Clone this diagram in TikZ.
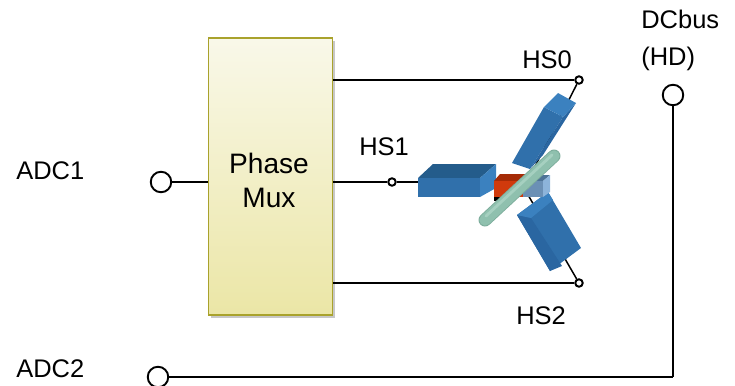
\documentclass[tikz,border=0pt]{standalone}
\usepackage{fontspec}
\setmainfont{Liberation Sans}
\usetikzlibrary{shadows}

\definecolor{muxtop}{HTML}{F9F8E9}
\definecolor{muxbot}{HTML}{EBE6A6}
\definecolor{muxedge}{HTML}{A9A22C}
\definecolor{coilmid}{HTML}{3070AB}
\definecolor{coildark}{HTML}{2A66A1}
\definecolor{coiltop}{HTML}{245C8B}
\definecolor{coillight}{HTML}{3B81BF}
\definecolor{redfront}{HTML}{D03A0C}
\definecolor{redtop}{HTML}{A52B06}
\definecolor{glassfront}{HTML}{6B90B5}
\definecolor{glasstop}{HTML}{4D7397}
\definecolor{glassside}{HTML}{8DB4DA}
\definecolor{rod}{HTML}{8FC0AE}
\definecolor{rodedge}{HTML}{7DAD9C}
\definecolor{rodhi}{HTML}{A6D0C0}

\tikzset{
  lbl/.style={font=\fontsize{14.5}{17}\selectfont, inner sep=0pt, anchor=base west},
  wire/.style={line width=0.85pt, black},
  bigterm/.style={circle, draw, line width=1.1pt, fill=white, minimum size=0.41cm, inner sep=0pt},
  smallterm/.style={circle, draw, line width=1.1pt, fill=white, minimum size=0.15cm, inner sep=0pt},
  muxbox/.style={draw=muxedge, line width=1.1pt, top color=muxtop, bottom color=muxbot,
    minimum width=2.48cm, minimum height=5.54cm, inner sep=0pt,
    drop shadow={shadow xshift=1.2pt, shadow yshift=-1.8pt, fill=black, opacity=0.22}},
  muxtext/.style={font=\fontsize{16}{19.8}\selectfont, align=center, inner sep=0pt},
}

\begin{document}
\begin{tikzpicture}[x=0.02cm, y=-0.02cm]
  \useasboundingbox (0,0) rectangle (735,386);

  % multiplexer block
  \node[muxbox] (mux) at (270.5,176.5) {};
  \node[muxtext] (muxlabel) at (269,180.5) {Phase\\Mux};

  % input / output terminals
  \node[bigterm] (adc1) at (161,182) {};
  \node[bigterm] (adc2) at (158,377) {};
  \node[bigterm] (dcbus) at (673,95) {};
  \node[smallterm] (hs0t) at (579,80) {};
  \node[smallterm] (hs1t) at (392,182) {};
  \node[smallterm] (hs2t) at (579,283) {};

  \coordinate (corner) at (673,377);
  \coordinate (hs1in) at (420,182);
  \coordinate (star) at (524,188);

  % labels
  \node[lbl] (adc1lbl) at (16,179) {ADC1};
  \node[lbl] (adc2lbl) at (16,377) {ADC2};
  \node[lbl] (dclbl) at (641,28) {DCbus};
  \node[lbl] (hdlbl) at (641,65) {(HD)};
  \node[lbl] (hs0lbl) at (522,68) {HS0};
  \node[lbl] (hs1lbl) at (359,155) {HS1};
  \node[lbl] (hs2lbl) at (516,324) {HS2};

  % connections
  \draw[wire] (adc1) -- (mux.west |- adc1);
  \draw[wire] (mux.east |- hs0t) -- (hs0t);
  \draw[wire] (mux.east |- hs1t) -- (hs1t);
  \draw[wire] (mux.east |- hs2t) -- (hs2t);
  \draw[wire] (adc2) -- (corner);
  \draw[wire] (dcbus) -- (corner);
  \draw[wire] (hs1t) -- (hs1in);
  \draw[wire] (hs0t) -- (star);
  \draw[wire] (hs2t) -- (star);

  % motor: upper winding
  \fill[coilmid] (544,107) -- (563,117) -- (530,169) -- (512,163) -- cycle;
  \fill[coildark] (563,117) -- (576,103) -- (543,155) -- (530,169) -- cycle;
  \fill[coillight] (544,107) -- (558,93) -- (576,103) -- (563,117) -- cycle;

  % motor: lower winding
  \fill[coilmid] (517,215) -- (548,192) -- (581,248) -- (550,271) -- cycle;
  \fill[coildark] (517,215) -- (531,218) -- (562,266) -- (550,271) -- cycle;
  \fill[coillight] (517,215) -- (548,192) -- (553,200) -- (531,218) -- cycle;

  % motor: side winding
  \fill[coiltop] (418,178) -- (433,164) -- (496,164) -- (480,178) -- cycle;
  \fill[coilmid] (418,178) rectangle (480,197);
  \fill[coillight] (480,178) -- (496,164) -- (496,188) -- (480,197) -- cycle;

  % rotor core
  \fill[black] (494,194) rectangle (501,201);
  \fill[redtop] (494,181) -- (500,174) -- (528,174) -- (523,181) -- cycle;
  \fill[redfront] (494,181) rectangle (523,197);
  \fill[glasstop] (523,181) -- (528,175) -- (550,175) -- (543,181) -- cycle;
  \fill[glassfront] (523,181) rectangle (543,197);
  \fill[glassside] (543,181) -- (550,175) -- (550,192) -- (543,197) -- cycle;

  % shaft
  \draw[rodedge, line width=7.4pt, line cap=round] (485,220) -- (554,156);
  \draw[rod, line width=6.4pt, line cap=round] (485,220) -- (554,156);
  \draw[rodhi, line width=1.6pt, line cap=round] (486,216) -- (552,155);
\end{tikzpicture}
\end{document}
